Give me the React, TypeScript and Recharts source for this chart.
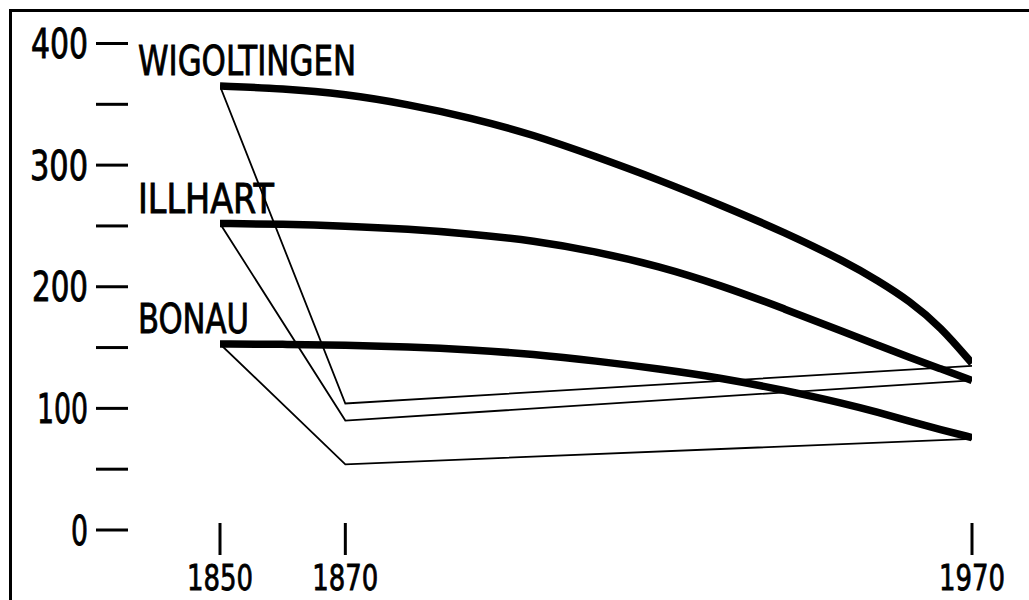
import React from 'react';
import { LineChart, Line, XAxis, YAxis } from 'recharts';

// Population curves (smooth, heavy lines)
const curveYears = [1850, 1860, 1870, 1880, 1890, 1900, 1910, 1920, 1930, 1940, 1950, 1955, 1960, 1965, 1970];
const wigoltingenCurve = [365, 363, 358.5, 350, 339, 325, 307, 288, 267, 245, 220, 205, 188.5, 167, 137];
const illhartCurve = [252, 251.5, 250, 247.5, 243.5, 238, 229, 217, 201, 182, 162, 152, 142, 132.5, 123];
const bonauCurve = [153, 152.7, 152, 150.7, 148.3, 144.5, 139, 132.5, 125, 115, 103.5, 96.7, 89.5, 82.5, 76];

// Thin polylines 1850 -> 1870 -> 1970
const thinYears = [1850, 1870, 1970];
const wigoltingenThin = [365, 104, 135];
const illhartThin = [252, 90, 123];
const bonauThin = [153, 54, 75];

const seriesNames = ['WIGOLTINGEN', 'ILLHART', 'BONAU'];

const yTicks = [0, 50, 100, 150, 200, 250, 300, 350, 400];
const xTicks = [1850, 1870, 1970];

const FONT = '"DejaVu Sans Condensed", "DejaVu Sans", sans-serif';
const textWidths: Record<string, number> = {
  WIGOLTINGEN: 218,
  ILLHART: 136,
  BONAU: 111,
  '400': 57,
  '300': 58,
  '200': 56,
  '100': 51,
  '0': 17,
  '1850': 66,
  '1870': 66,
  '1970': 66,
};

const zip = (xs: number[], vs: number[]) => xs.map((x, i) => ({ year: x, v: vs[i] }));

const curves = [wigoltingenCurve, illhartCurve, bonauCurve].map((vs) => zip(curveYears, vs));
const thins = [wigoltingenThin, illhartThin, bonauThin].map((vs) => zip(thinYears, vs));

const YTick = (props: any) => {
  const { x, y, payload } = props;
  const v = payload.value as number;
  const label = String(v);
  return (
    <g>
      <line x1={x - 124} x2={x - 92} y1={y} y2={y} stroke="#000" strokeWidth={3} />
      {v % 100 === 0 && (
        <text
          x={x - 132}
          y={y + 14.5}
          textAnchor="end"
          fontSize={40}
          fontFamily={FONT}
          fill="#000"
          stroke="#000"
          strokeWidth={0.8}
          textLength={textWidths[label]}
          lengthAdjust="spacingAndGlyphs"
        >
          {label}
        </text>
      )}
    </g>
  );
};

const XTick = (props: any) => {
  const { x, y, payload } = props;
  const label = String(payload.value);
  return (
    <g>
      <line x1={x} x2={x} y1={y - 7} y2={y + 25} stroke="#000" strokeWidth={3} />
      <text
        x={x}
        y={y + 60}
        textAnchor="middle"
        fontSize={36}
        fontFamily={FONT}
        fill="#000"
        stroke="#000"
        strokeWidth={0.8}
        textLength={textWidths[label]}
        lengthAdjust="spacingAndGlyphs"
      >
        {label}
      </text>
    </g>
  );
};

const makeNameLabel = (name: string) => (props: any) => {
  const { x, y, index } = props;
  if (index !== 0) return <g />;
  return (
    <text
      x={x - 82}
      y={y - 11}
      textAnchor="start"
      fontSize={40}
      fontFamily={FONT}
      fill="#000"
      stroke="#000"
      strokeWidth={0.8}
      textLength={textWidths[name]}
      lengthAdjust="spacingAndGlyphs"
    >
      {name}
    </text>
  );
};

export default function App() {
  return (
    <div
      style={{
        position: 'absolute',
        left: 0,
        top: 0,
        width: 1029,
        height: 600,
        overflow: 'hidden',
        background: '#fff',
      }}
    >
      <div
        style={{
          position: 'absolute',
          left: 9,
          top: 9,
          width: 1100,
          height: 700,
          borderLeft: '3px solid #000',
          borderTop: '3px solid #000',
        }}
      />
      <div style={{ position: 'absolute', left: 0, top: 0 }}>
        <LineChart width={1029} height={600} margin={{ top: 43.5, right: 57, left: 0, bottom: 0 }}>
          <XAxis
            dataKey="year"
            type="number"
            domain={[1850, 1970]}
            ticks={xTicks}
            height={70}
            axisLine={false}
            tickLine={false}
            tickSize={0}
            tickMargin={0}
            tick={<XTick />}
            allowDataOverflow
            interval={0}
          />
          <YAxis
            type="number"
            domain={[0, 400]}
            ticks={yTicks}
            width={220}
            axisLine={false}
            tickLine={false}
            tickSize={0}
            tickMargin={0}
            tick={<YTick />}
            interval={0}
          />
          {thins.map((d, i) => (
            <Line
              key={'thin' + i}
              data={d}
              dataKey="v"
              type="linear"
              stroke="#000"
              strokeWidth={1.8}
              dot={false}
              activeDot={false}
              isAnimationActive={false}
            />
          ))}
          {curves.map((d, i) => (
            <Line
              key={'curve' + i}
              data={d}
              dataKey="v"
              type="basis"
              stroke="#000"
              strokeWidth={7.5}
              dot={false}
              activeDot={false}
              isAnimationActive={false}
              label={makeNameLabel(seriesNames[i])}
            />
          ))}
        </LineChart>
      </div>
    </div>
  );
}
